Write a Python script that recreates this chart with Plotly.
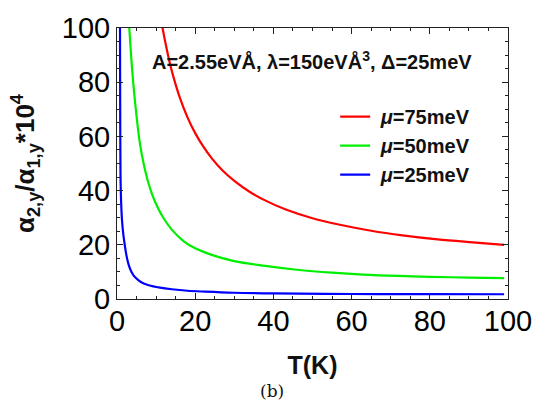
import plotly.graph_objects as go

# Temperature (K) and ratio values
T_red = [11.3, 11.65, 12.5, 13.5, 14.5, 16.0, 18.0, 20.0, 22.0, 24.3, 27.0, 30.0, 34.0, 38.0, 43.0, 50.0, 57.0, 65.0, 73.0, 82.0, 91.0, 99.0]
v_red = [102.9, 100.0, 93.7, 87.1, 81.6, 74.6, 67.1, 61.2, 56.4, 51.8, 47.4, 43.6, 39.5, 36.3, 33.1, 29.8, 27.4, 25.2, 23.5, 22.0, 20.9, 20.0]

T_green = [3.0, 3.14, 3.6, 4.2, 5.0, 5.85, 6.8, 7.8, 9.0, 10.5, 12.0, 14.0, 17.0, 20.0, 25.0, 30.0, 37.4, 46.0, 55.0, 63.0, 72.0, 80.0, 90.0, 99.0]
v_green = [103.0, 100.0, 90.0, 79.0, 67.5, 57.5, 50.0, 44.0, 38.5, 33.5, 29.6, 25.6, 21.4, 18.7, 15.9, 14.0, 12.3, 10.8, 9.7, 9.0, 8.5, 8.2, 7.9, 7.7]

T_blue = [0.76, 0.8, 0.84, 0.9, 1.05, 1.28, 1.6, 1.95, 2.4, 2.97, 3.7, 4.7, 6.2, 8.1, 11.0, 14.0, 18.0, 22.6, 29.8, 40.0, 60.0, 80.0, 99.0]
v_blue = [104.0, 80.0, 60.0, 45.5, 36.0, 29.1, 24.0, 20.3, 16.2, 12.7, 10.0, 7.9, 6.2, 5.1, 4.2, 3.6, 3.05, 2.7, 2.3, 2.05, 1.85, 1.78, 1.75]

series_names = ["<b>\u00a0<i>μ</i>=75meV</b>", "<b>\u00a0<i>μ</i>=50meV</b>", "<b>\u00a0<i>μ</i>=25meV</b>"]
series_colors = ["#ff0000", "#00ee00", "#0000ff"]

x_ticks = [0, 20, 40, 60, 80, 100]
y_ticks = [0, 20, 40, 60, 80, 100]

fig = go.Figure()
for i, (T, v, name, col) in enumerate(zip([T_red, T_green, T_blue], [v_red, v_green, v_blue], series_names, series_colors)):
    fig.add_trace(go.Scatter(x=T, y=v, mode="lines", name=name, legendgroup=f"g{i}",
                             line=dict(color=col, width=2.2, shape="spline", smoothing=1.0)))

axis_common = dict(
    showgrid=False, zeroline=False, showline=True, linecolor="#222", linewidth=1,
    mirror="ticks", ticks="inside", ticklen=6, tickwidth=1, tickcolor="#222",
    tickfont=dict(family="Liberation Sans, Arial", size=29, color="black"),
    ticklabeloverflow="allow",
)

fig.update_layout(
    width=550, height=413,
    margin=dict(l=117, r=42, t=15, b=114),
    paper_bgcolor="white", plot_bgcolor="white",
    showlegend=True,
    legend=dict(x=0.558, y=0.745, xanchor="left", yanchor="top",
                bgcolor="rgba(0,0,0,0)", font=dict(family="Liberation Sans, Arial", size=20, color="#111"),
                itemwidth=30, tracegroupgap=0),
    xaxis=dict(range=[0, 100], tickvals=x_ticks, ticklabelstandoff=-4,
               minor=dict(dtick=5, ticks="inside", ticklen=3, tickcolor="#222", showgrid=False),
               title=dict(text="<b>T(K)</b>", font=dict(family="Liberation Sans, Arial", size=25, color="#111"), standoff=20),
               **axis_common),
    yaxis=dict(range=[0, 100], tickvals=y_ticks,
               minor=dict(dtick=5, ticks="inside", ticklen=3, tickcolor="#222", showgrid=False),
               title=dict(text="<b>α<sub>2,y</sub>/α<sub>1,y</sub>*10<sup>4</sup></b>",
                          font=dict(family="Liberation Sans, Arial", size=26, color="#111"), standoff=19),
               **axis_common),
)

fig.add_annotation(xref="paper", yref="paper", x=0.499, y=0.880, xanchor="center", yanchor="middle",
                   text="<b>A=2.55eVÅ, λ=150eVÅ<sup>3</sup>, Δ=25meV</b>", showarrow=False,
                   font=dict(family="Liberation Sans, Arial", size=20, color="#111"))
fig.add_annotation(xref="paper", yref="paper", x=0.396, y=-0.34, xanchor="center", yanchor="middle",
                   text="(b)", showarrow=False,
                   font=dict(family="DejaVu Serif, Liberation Serif", size=17, color="#111"))

fig.write_html("out.html", config={"displayModeBar": False},
               post_script="document.body.style.margin='0';")
